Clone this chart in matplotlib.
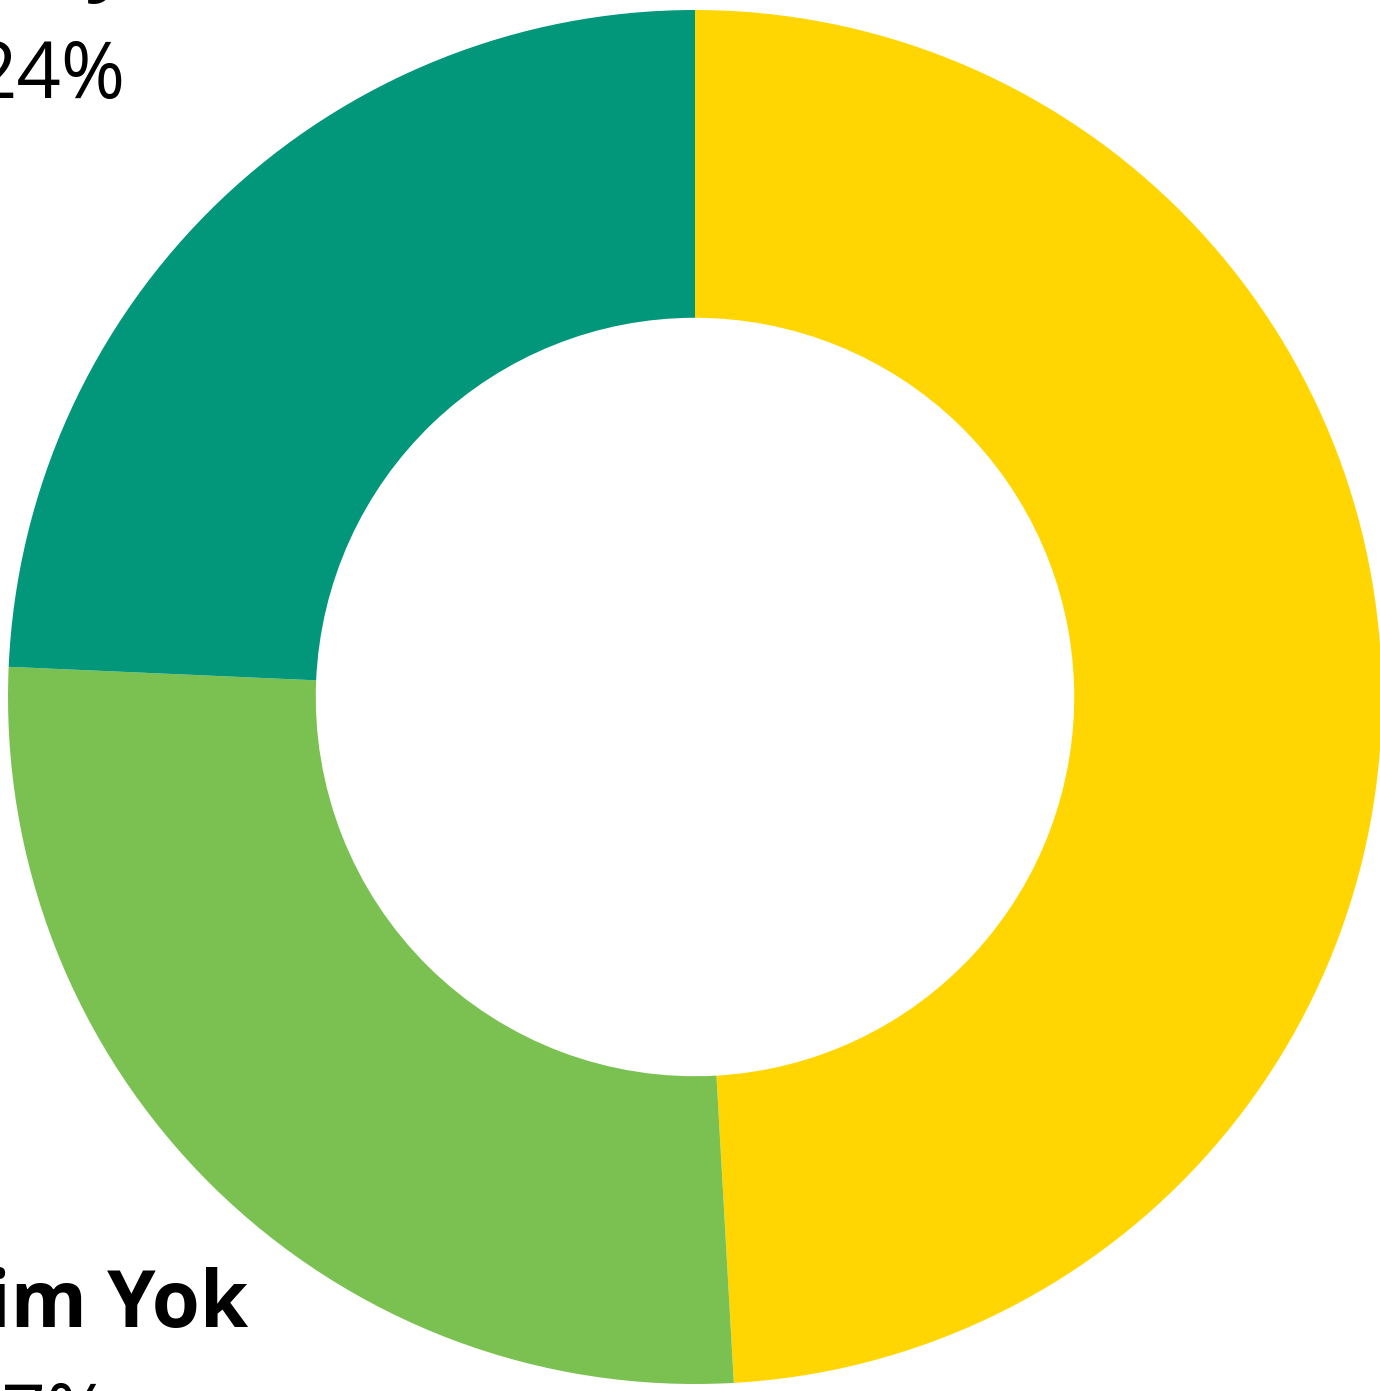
import matplotlib
matplotlib.use("Agg")
import matplotlib.pyplot as plt

plt.rcParams["font.family"] = ["Open Sans", "DejaVu Sans"]

categories = ["Evet", "Bilgim Yok", "Hayır"]
values = [49.1, 26.6, 24.3]
colors = ["#FFD602", "#7BC152", "#02967A"]

fig = plt.figure(figsize=(13.8, 13.91), dpi=100)
ax = fig.add_axes([0, 0, 1, 1])
ax.pie(values, colors=colors, startangle=90, counterclock=False, radius=1.0,
       wedgeprops=dict(width=0.448, edgecolor="none", linewidth=0))

ax.set_xlim(-695 / 687, (1380 - 695) / 687)
ax.set_ylim(-(1391 - 697) / 687, 697 / 687)
ax.set_aspect("auto")
ax.axis("off")

fs = 56
pct = [f"{round(v)}%" for v in values]

# Bilgim Yok label (bottom-left, partly outside the canvas as in the reference)
ax.text(-0.6507, -0.917, categories[1], fontsize=fs, fontweight="bold",
        ha="right", va="baseline", color="black", clip_on=False)
ax.text(-0.8515, -1.0815, pct[1], fontsize=fs, ha="right", va="baseline",
        color="black", clip_on=False)

# Hayır label (top-left, partly outside the canvas as in the reference)
ax.text(-0.889, 1.036, categories[2], fontsize=fs, fontweight="bold",
        ha="center", va="baseline", color="black", clip_on=False)
ax.text(-0.8297, 0.872, pct[2], fontsize=fs, ha="right", va="baseline",
        color="black", clip_on=False)

fig.savefig("out.png", dpi=100)
